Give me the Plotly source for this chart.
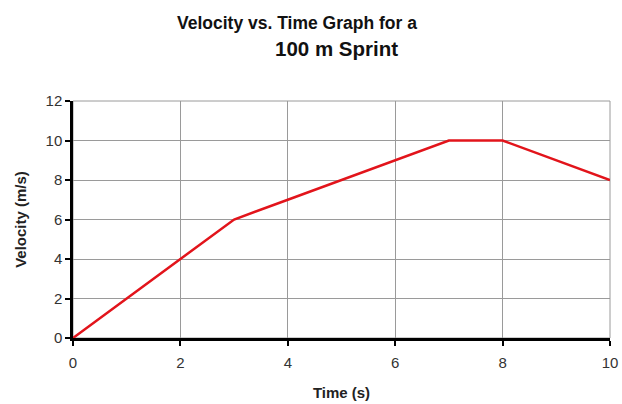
import plotly.graph_objects as go

time_s = [0, 1, 2, 3, 4, 5, 6, 7, 8, 9, 10]
velocity = [0, 2, 4, 6, 7, 8, 9, 10, 10, 9, 8]
x_ticks = [0, 2, 4, 6, 8, 10]
y_ticks = [0, 2, 4, 6, 8, 10, 12]
title_lines = ["Velocity vs. Time Graph for a", "100 m Sprint"]

FONT = "Liberation Sans, Arial, sans-serif"

fig = go.Figure()
fig.add_trace(go.Scatter(
    x=time_s, y=velocity, mode="lines",
    line=dict(color="#e2141b", width=2.5),
    showlegend=False, hoverinfo="skip",
))

fig.update_layout(
    width=622, height=404,
    margin=dict(l=73, r=12, t=101, b=66, autoexpand=False),
    paper_bgcolor="white", plot_bgcolor="white",
    font=dict(family=FONT, color="#222"),
    xaxis=dict(
        range=[0, 10], tickvals=x_ticks, ticktext=[str(v) for v in x_ticks],
        showgrid=True, gridcolor="#9a9a9a", gridwidth=1,
        showline=True, linecolor="black", linewidth=2.5,
        ticks="outside", ticklen=5, tickwidth=2, tickcolor="black",
        tickfont=dict(size=15, color="#333"),
        ticklabelstandoff=4,
        zeroline=False, automargin=False,
        title=dict(text="<b>Time (s)</b>", font=dict(size=15, color="#222"), standoff=18),
    ),
    yaxis=dict(
        range=[0, 12], tickvals=y_ticks, ticktext=[str(v) for v in y_ticks],
        showgrid=True, gridcolor="#9a9a9a", gridwidth=1,
        showline=True, linecolor="black", linewidth=2.5,
        ticks="outside", ticklen=5, tickwidth=2, tickcolor="black",
        tickfont=dict(size=15, color="#333"),
        zeroline=False, automargin=False,
        title=dict(text="<b>Velocity (m/s)</b>", font=dict(size=15, color="#222"), standoff=16),
    ),
    shapes=[dict(type="rect", xref="paper", yref="paper", x0=0, x1=1, y0=0, y1=1,
                 line=dict(color="#9a9a9a", width=1), layer="below")],
    annotations=[
        dict(text="<b>" + title_lines[0] + "</b>", xref="paper", yref="paper",
             x=0.417, y=1.33, showarrow=False, xanchor="center", yanchor="middle",
             font=dict(size=17.5, color="#111", family=FONT)),
        dict(text="<b>" + title_lines[1] + "</b>", xref="paper", yref="paper",
             x=0.49, y=1.222, showarrow=False, xanchor="center", yanchor="middle",
             font=dict(size=20.5, color="#111", family=FONT)),
    ],
)

fig.write_html(
    "out.html",
    config={"displayModeBar": False},
    post_script="document.body.style.margin='0';document.body.style.overflow='hidden';",
)
